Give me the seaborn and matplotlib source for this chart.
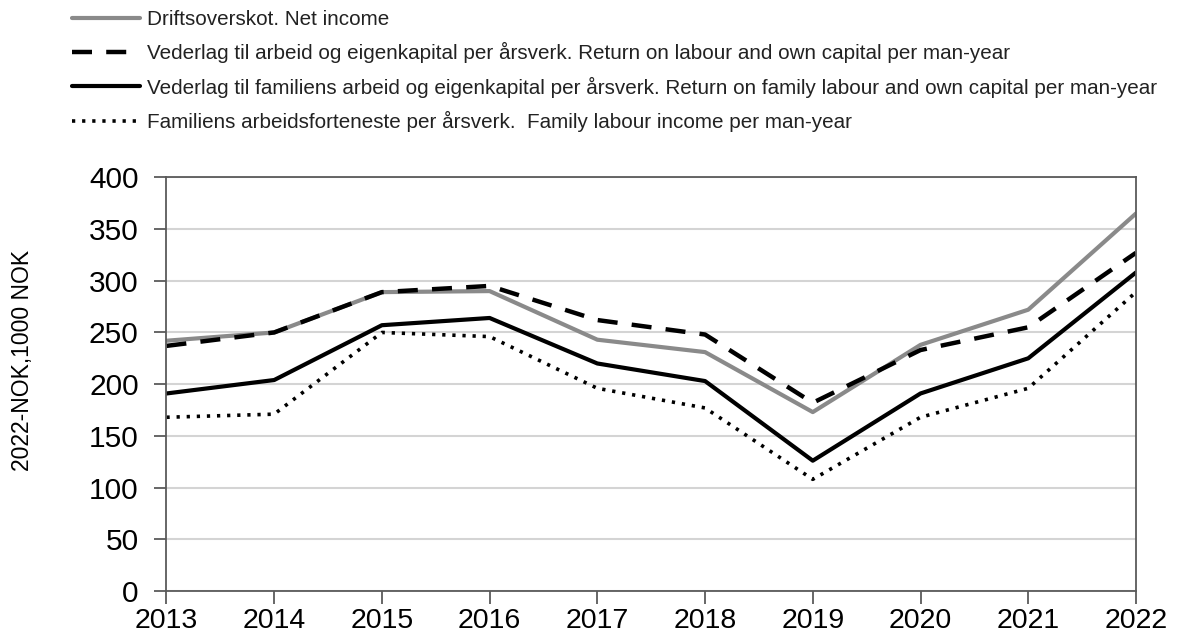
import matplotlib
matplotlib.use("Agg")
import matplotlib.pyplot as plt
import seaborn as sns
import pandas as pd

years = [2013, 2014, 2015, 2016, 2017, 2018, 2019, 2020, 2021, 2022]
net_income = [242, 250, 289, 290, 243, 231, 173, 238, 272, 365]
return_labour_capital = [237, 250, 289, 295, 262, 248, 182, 233, 255, 327]
return_family_labour_capital = [191, 204, 257, 264, 220, 203, 126, 191, 225, 308]
family_labour_income = [168, 171, 250, 246, 196, 177, 108, 168, 196, 289]

labels = [
    "Driftsoverskot. Net income",
    "Vederlag til arbeid og eigenkapital per årsverk. Return on labour and own capital per man-year",
    "Vederlag til familiens arbeid og eigenkapital per årsverk. Return on family labour and own capital per man-year",
    "Familiens arbeidsforteneste per årsverk.  Family labour income per man-year",
]
yticks = [0, 50, 100, 150, 200, 250, 300, 350, 400]
ylabel = "2022-NOK,1000 NOK"

sns.set_theme(style="white")
plt.rcParams["font.family"] = ["Liberation Sans", "DejaVu Sans"]

fig = plt.figure(figsize=(11.78, 6.39), dpi=100)
ax = fig.add_axes([0.1413, 0.0751, 0.9643 - 0.1413, 0.7225 - 0.0751])

series = [net_income, return_labour_capital, return_family_labour_capital, family_labour_income]
styles = [
    dict(color="#8a8a8a", lw=3.0, ls="-"),
    dict(color="black", lw=3.2, ls=(0, (4.5, 3.2))),
    dict(color="black", lw=3.0, ls="-"),
    dict(color="black", lw=2.6, ls=(0, (0.9, 1.9))),
]
handles = []
for vals, st, lab in zip(series, styles, labels):
    df = pd.DataFrame({"year": years, "value": vals})
    sns.lineplot(data=df, x="year", y="value", ax=ax, color=st["color"],
                 linewidth=st["lw"], linestyle=st["ls"], label=lab, legend=False)
    handles.append(ax.lines[-1])

ax.set_xlim(2013, 2022)
ax.set_ylim(0, 400)
ax.set_xticks(years)
ax.set_xticklabels([str(y) for y in years])
ax.set_yticks(yticks)
ax.grid(axis="y", color="#d4d4d4", linewidth=1.5)
ax.grid(axis="x", visible=False)
ax.set_axisbelow(True)
for sp in ax.spines.values():
    sp.set_visible(True)
    sp.set_color("#5a5a5a")
    sp.set_linewidth(1.3)
ax.tick_params(axis="both", which="major", direction="out", length=9, width=1.3,
               color="#5a5a5a", labelcolor="black")
ax.tick_params(axis="y", pad=11, labelsize=21.5)
ax.tick_params(axis="x", pad=3.5, labelsize=20.5)
ax.tick_params(left=True, bottom=True)
ax.set_xlabel("")
ax.set_ylabel("")
fig.text(23 / 1178, 1 - 360 / 639, ylabel, rotation=90, fontsize=16.5,
         ha="center", va="center", color="black")

leg = fig.legend(handles, labels, loc="upper left", bbox_to_anchor=(72 / 1178, 1 - 10 / 639),
                 frameon=False, fontsize=14.85, handlelength=3.3, handletextpad=0.33,
                 labelspacing=0.64, borderpad=0, borderaxespad=0)
for t in leg.get_texts():
    t.set_color("#222222")

fig.savefig("out.png", dpi=100)
